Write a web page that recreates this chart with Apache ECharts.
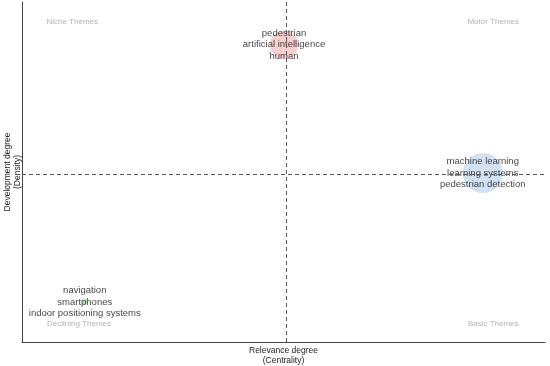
<!DOCTYPE html>
<html><head><meta charset="utf-8">
<script src="https://cdn.jsdelivr.net/npm/echarts@6/dist/echarts.min.js"></script>
<style>html,body{margin:0;padding:0;background:#fff}#c{width:550px;height:366px}</style>
</head><body><div id="c"></div>
<script>
// Cluster data (centrality, density, frequency)
const clusterNames = ["pedestrian\nartificial intelligence\nhuman", "machine learning\nlearning systems\npedestrian detection", "navigation\nsmartphones\nindoor positioning systems"];
const centrality = [50.1, 88.1, 12.0];
const density = [87.4, 49.7, 11.8];
const frequency = [196, 400, 9];
const clusterColors = ["rgba(240,145,145,0.55)", "rgba(160,195,230,0.6)", "rgba(120,200,120,0.6)"];
// Quadrant labels
const quadrantNames = ["Niche Themes", "Motor Themes", "Declining Themes", "Basic Themes"];
const quadrantX = [9.6, 90.1, 10.9, 90.1];
const quadrantY = [94.1, 94.1, 5.3, 5.3];
// Reference lines (means)
const meanCentrality = 50.5;
const meanDensity = 49.4;

const chart = echarts.init(document.getElementById('c'));
const font = 'Liberation Sans, Arial, sans-serif';
chart.setOption({
  animation: false,
  grid: {left: 22, right: 5, top: 2, bottom: 24, containLabel: false, outerBoundsMode: 'none'},
  xAxis: {type: 'value', min: 0, max: 100, name: 'Relevance degree\n(Centrality)', nameLocation: 'middle', nameGap: 4,
    nameTextStyle: {fontSize: 8.5, color: '#222', fontFamily: font, lineHeight: 10},
    axisLine: {show: true, lineStyle: {color: '#444', width: 1}}, axisTick: {show: false}, axisLabel: {show: false}, splitLine: {show: false}},
  yAxis: {type: 'value', min: 0, max: 100, name: 'Development degree\n(Density)', nameLocation: 'middle', nameGap: -1,
    nameTextStyle: {fontSize: 8.5, color: '#222', fontFamily: font, lineHeight: 10},
    axisLine: {show: true, lineStyle: {color: '#444', width: 1}}, axisTick: {show: false}, axisLabel: {show: false}, splitLine: {show: false}},
  series: [
    {type: 'scatter', z: 1, symbolSize: 0,
      data: quadrantNames.map((n, i) => ({value: [quadrantX[i], quadrantY[i]], name: n})),
      label: {show: true, position: 'inside', formatter: p => p.name, fontSize: 8, color: '#a0a0a0', fontFamily: font},
      markLine: {silent: true, symbol: 'none', label: {show: false},
        lineStyle: {type: [4, 3], color: '#555', width: 1},
        data: [{xAxis: meanCentrality}, {yAxis: meanDensity}]}
    },
    {type: 'scatter', z: 3,
      data: clusterNames.map((n, i) => ({value: [centrality[i], density[i], frequency[i]], name: n, itemStyle: {color: clusterColors[i]}})),
      symbolSize: v => Math.sqrt(v[2]) * 2,
      label: {show: true, position: 'inside', formatter: p => p.name, fontSize: 9.5, lineHeight: 11.5, color: '#111', fontFamily: font}
    }
  ]
});
</script></body></html>
